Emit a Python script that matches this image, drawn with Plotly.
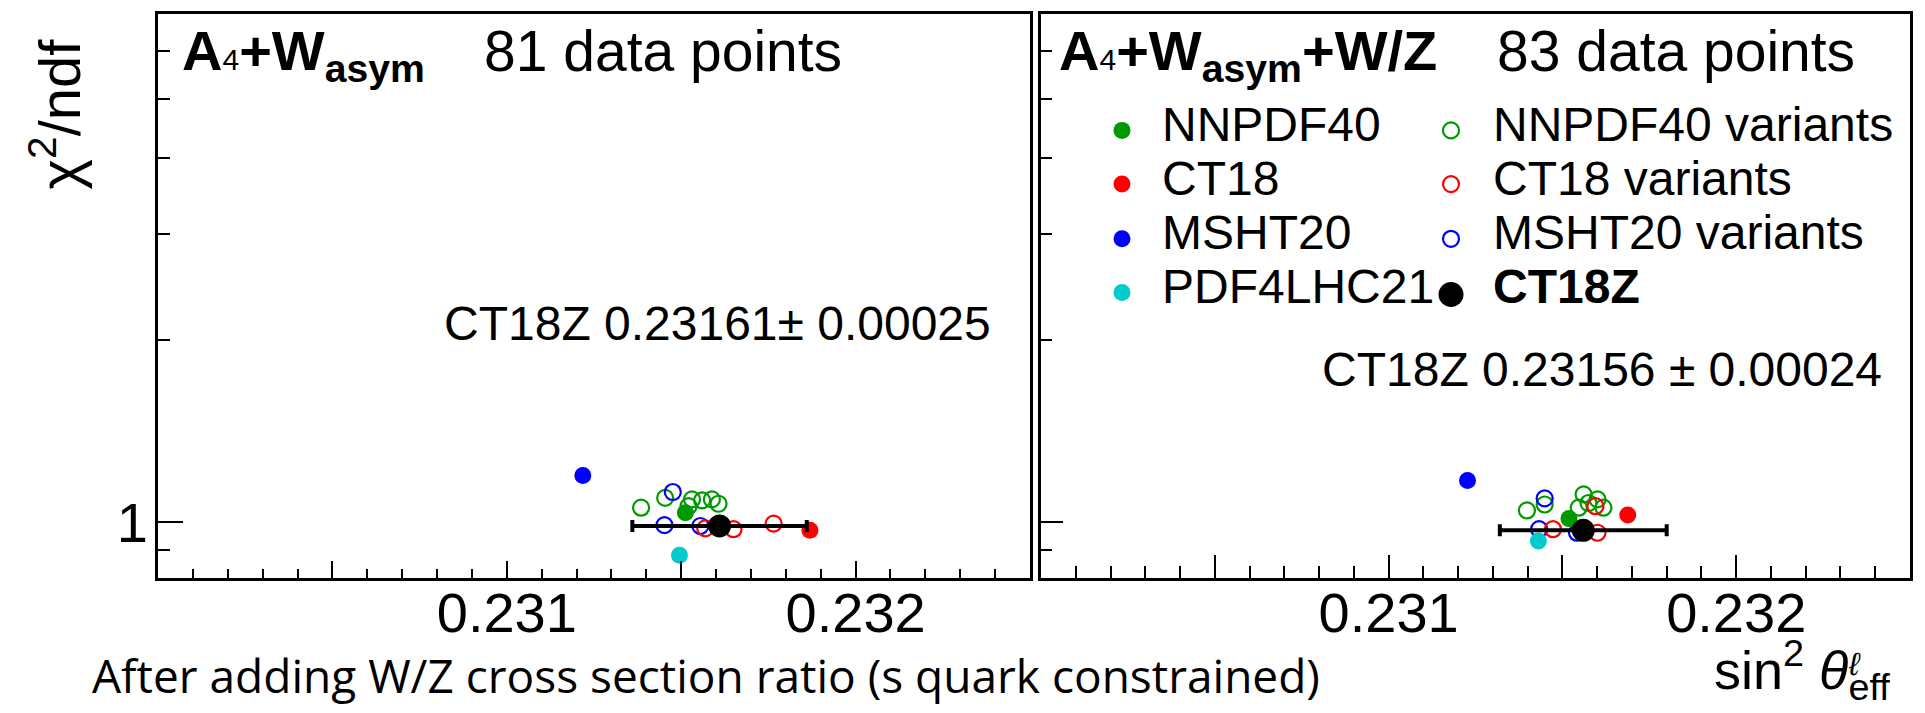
import math
import plotly.graph_objects as go

# ---------------- data ----------------
# Left panel: A4 + W_asym (81 data points)
left_nnpdf40_x = [0.231512]
left_nnpdf40_y = [1.036]
left_ct18_x = [0.231869]
left_ct18_y = [0.969]
left_msht20_x = [0.231218]
left_msht20_y = [1.194]
left_pdf4lhc21_x = [0.231495]
left_pdf4lhc21_y = [0.881]
left_ct18z_x = [0.23161]
left_ct18z_y = [0.985]
left_ct18z_err = [0.00025]
left_nnpdf40_var_x = [0.231385, 0.231454, 0.231531, 0.231560, 0.231588, 0.231607, 0.231521]
left_nnpdf40_var_y = [1.056, 1.096, 1.090, 1.086, 1.090, 1.072, 1.062]
left_msht20_var_x = [0.231476, 0.231452, 0.231555]
left_msht20_var_y = [1.121, 0.988, 0.985]
left_ct18_var_x = [0.231569, 0.231650, 0.231765]
left_ct18_var_y = [0.976, 0.973, 0.994]

# Right panel: A4 + W_asym + W/Z (83 data points)
right_nnpdf40_x = [0.231519]
right_nnpdf40_y = [1.013]
right_ct18_x = [0.231688]
right_ct18_y = [1.027]
right_msht20_x = [0.231227]
right_msht20_y = [1.171]
right_pdf4lhc21_x = [0.231431]
right_pdf4lhc21_y = [0.930]
right_ct18z_x = [0.23156]
right_ct18z_y = [0.969]
right_ct18z_err = [0.00024]
right_nnpdf40_var_x = [0.231398, 0.231449, 0.231561, 0.231601, 0.231547, 0.231618, 0.231575]
right_nnpdf40_var_y = [1.045, 1.069, 1.111, 1.090, 1.056, 1.056, 1.075]
right_msht20_var_x = [0.231449, 0.231433, 0.231542]
right_msht20_var_y = [1.094, 0.973, 0.960]
right_ct18_var_x = [0.231473, 0.231595, 0.231601]
right_ct18_var_y = [0.973, 1.062, 0.960]

x_tick_vals = [0.2305, 0.231, 0.2315, 0.232]
x_tick_text = ["", "0.231", "", "0.232"]
y_tick_vals = [1]
y_tick_text = ["1"]
y_minor_vals = [0.9, 2, 3, 4, 5, 6]
x_range = [0.230, 0.2325]
y_range = [0.808, 6.92]

legend_labels_col1 = ["NNPDF40", "CT18", "MSHT20", "PDF4LHC21"]
legend_labels_col2 = ["NNPDF40 variants", "CT18 variants", "MSHT20 variants", "<b>CT18Z</b>"]

# ---------------- styling ----------------
GREEN = "#009900"
RED = "#ff0000"
BLUE = "#0000ff"
CYAN = "#00cccc"
BLACK = "#000000"
FONT = "Liberation Sans, Arial, sans-serif"

W, H = 1925, 713
ML, MR, MT, MB = 158, 15, 11, 135
PW = W - ML - MR
PH = H - MT - MB


def px(x):
    return (x - ML) / PW


def py(y):
    return (H - MB - y) / PH


fig = go.Figure()

panels = [
    ("x", "y", left_nnpdf40_var_x, left_nnpdf40_var_y, left_msht20_var_x, left_msht20_var_y,
     left_ct18_var_x, left_ct18_var_y, left_nnpdf40_x, left_nnpdf40_y, left_ct18_x, left_ct18_y,
     left_msht20_x, left_msht20_y, left_pdf4lhc21_x, left_pdf4lhc21_y,
     left_ct18z_x, left_ct18z_y, left_ct18z_err),
    ("x2", "y2", right_nnpdf40_var_x, right_nnpdf40_var_y, right_msht20_var_x, right_msht20_var_y,
     right_ct18_var_x, right_ct18_var_y, right_nnpdf40_x, right_nnpdf40_y, right_ct18_x, right_ct18_y,
     right_msht20_x, right_msht20_y, right_pdf4lhc21_x, right_pdf4lhc21_y,
     right_ct18z_x, right_ct18z_y, right_ct18z_err),
]

for (xa, ya, gvx, gvy, bvx, bvy, rvx, rvy, gx, gy, rx, ry, bx, by, cx, cy, zx, zy, ze) in panels:
    def open_trace(xs, ys, col):
        fig.add_trace(go.Scatter(x=xs, y=ys, mode="markers", xaxis=xa, yaxis=ya,
                                 marker=dict(symbol="circle-open", size=16, color=col,
                                             line=dict(width=2.2, color=col)),
                                 showlegend=False, hoverinfo="skip"))

    def filled_trace(xs, ys, col, size=17):
        fig.add_trace(go.Scatter(x=xs, y=ys, mode="markers", xaxis=xa, yaxis=ya,
                                 marker=dict(symbol="circle", size=size, color=col,
                                             line=dict(width=0)),
                                 showlegend=False, hoverinfo="skip"))

    open_trace(gvx, gvy, GREEN)
    open_trace(bvx, bvy, BLUE)
    open_trace(rvx, rvy, RED)
    filled_trace(gx, gy, GREEN)
    filled_trace(rx, ry, RED)
    filled_trace(bx, by, BLUE)
    filled_trace(cx, cy, CYAN)
    fig.add_trace(go.Scatter(x=zx, y=zy, mode="markers", xaxis=xa, yaxis=ya,
                             marker=dict(symbol="circle", size=23, color=BLACK),
                             error_x=dict(type="data", array=ze, visible=True,
                                          color=BLACK, thickness=4, width=6),
                             showlegend=False, hoverinfo="skip"))

x_minor = [round(0.2300 + 0.0001 * i, 4) for i in range(1, 25)]
x_minor = [v for v in x_minor if v not in x_tick_vals]

common_x = dict(range=x_range, tickmode="array", tickvals=x_tick_vals, ticktext=x_tick_text,
                ticks="inside", tickwidth=2, tickcolor="black", ticklabelstandoff=-16,
                showline=True, linewidth=3, linecolor="black", mirror=True,
                showgrid=False, zeroline=False,
                tickfont=dict(family=FONT, size=56, color="black"))
common_y = dict(type="log", range=[math.log10(y_range[0]), math.log10(y_range[1])],
                tickmode="array", tickvals=y_tick_vals, ticktext=y_tick_text,
                ticks="inside", tickwidth=2, tickcolor="black",
                showline=True, linewidth=3, linecolor="black", mirror=True,
                showgrid=False, zeroline=False,
                tickfont=dict(family=FONT, size=56, color="black"))

fig.update_layout(
    xaxis=dict(domain=[0, px(1030)], anchor="y", ticklen=17,
               minor=dict(tickvals=x_minor, ticks="inside", ticklen=9, tickwidth=2, tickcolor="black"),
               **common_x),
    xaxis2=dict(domain=[px(1041), 1], anchor="y2", ticklen=23,
                minor=dict(tickvals=x_minor, ticks="inside", ticklen=12, tickwidth=2, tickcolor="black"),
                **common_x),
    yaxis=dict(domain=[0, 1], anchor="x", ticklen=25, ticklabelstandoff=-4,
               minor=dict(tickvals=y_minor_vals, ticks="inside", ticklen=12, tickwidth=2, tickcolor="black"),
               **common_y),
    yaxis2=dict(domain=[0, 1], anchor="x2", ticklen=22, showticklabels=False,
                minor=dict(tickvals=y_minor_vals, ticks="inside", ticklen=11, tickwidth=2, tickcolor="black"),
                **common_y),
)

ann = []


def text(x, y, t, size, xanchor="left", yanchor="middle", family=FONT, angle=0):
    ann.append(dict(x=px(x), y=py(y), xref="paper", yref="paper", text=t, showarrow=False,
                    xanchor=xanchor, yanchor=yanchor, textangle=angle,
                    font=dict(family=family, size=size, color="black")))


# headers
text(180, 52, "<b>A</b><span style='font-size:30px'>4</span><b>+W<sub>asym</sub></b>", 56)
text(482, 48, "81 data points", 57)
text(1057, 52, "<b>A</b><span style='font-size:30px'>4</span><b>+W<sub>asym</sub>+W/Z</b>", 56)
text(1495, 48, "83 data points", 57)

# results
text(442, 322, "CT18Z 0.23161\u00b1 0.00025", 48)
text(1320, 368, "CT18Z 0.23156 \u00b1 0.00024", 48)

# legend (decoration)
leg_rows = [128, 182, 237, 291]
col1_x, col2_x = 1122, 1451
col1_colors = [GREEN, RED, BLUE, CYAN]
col2_colors = [GREEN, RED, BLUE, BLACK]
shapes = []
for i, yy in enumerate(leg_rows):
    r = 8.5
    shapes.append(dict(type="circle", xref="paper", yref="paper", xsizemode="pixel", ysizemode="pixel",
                       xanchor=px(col1_x), yanchor=py(yy), x0=-r, x1=r, y0=-r, y1=r,
                       fillcolor=col1_colors[i], line=dict(width=0)))
    if i < 3:
        r2 = 8
        shapes.append(dict(type="circle", xref="paper", yref="paper", xsizemode="pixel", ysizemode="pixel",
                           xanchor=px(col2_x), yanchor=py(yy), x0=-r2, x1=r2, y0=-r2, y1=r2,
                           fillcolor="rgba(0,0,0,0)", line=dict(width=2.2, color=col2_colors[i])))
    else:
        r3 = 12.5
        shapes.append(dict(type="circle", xref="paper", yref="paper", xsizemode="pixel", ysizemode="pixel",
                           xanchor=px(col2_x), yanchor=py(yy + 2), x0=-r3, x1=r3, y0=-r3, y1=r3,
                           fillcolor=BLACK, line=dict(width=0)))
    text(1160, yy - 6, legend_labels_col1[i], 48)
    text(1491, yy - 6, legend_labels_col2[i], 48)

# axis titles
text(55, 34, "\u03c7<sup>2</sup>/ndf", 58, xanchor="center", yanchor="top", angle=-90)
text(1712, 711, "sin<sup>2</sup> <i>\u03b8</i><sub>eff</sub>", 54, yanchor="bottom")
text(1846, 664, "<i>\u2113</i>", 32)

# note
text(90, 676, "After adding W/Z cross section ratio (s quark constrained)", 46,
     family="Open Sans, Noto Sans, sans-serif")

fig.update_layout(
    width=W, height=H,
    margin=dict(l=ML, r=MR, t=MT, b=MB, pad=0),
    paper_bgcolor="white", plot_bgcolor="white",
    annotations=ann, shapes=shapes,
    showlegend=False,
    font=dict(family=FONT, color="black"),
)

fig.write_html("out.html", config={"displayModeBar": False})
